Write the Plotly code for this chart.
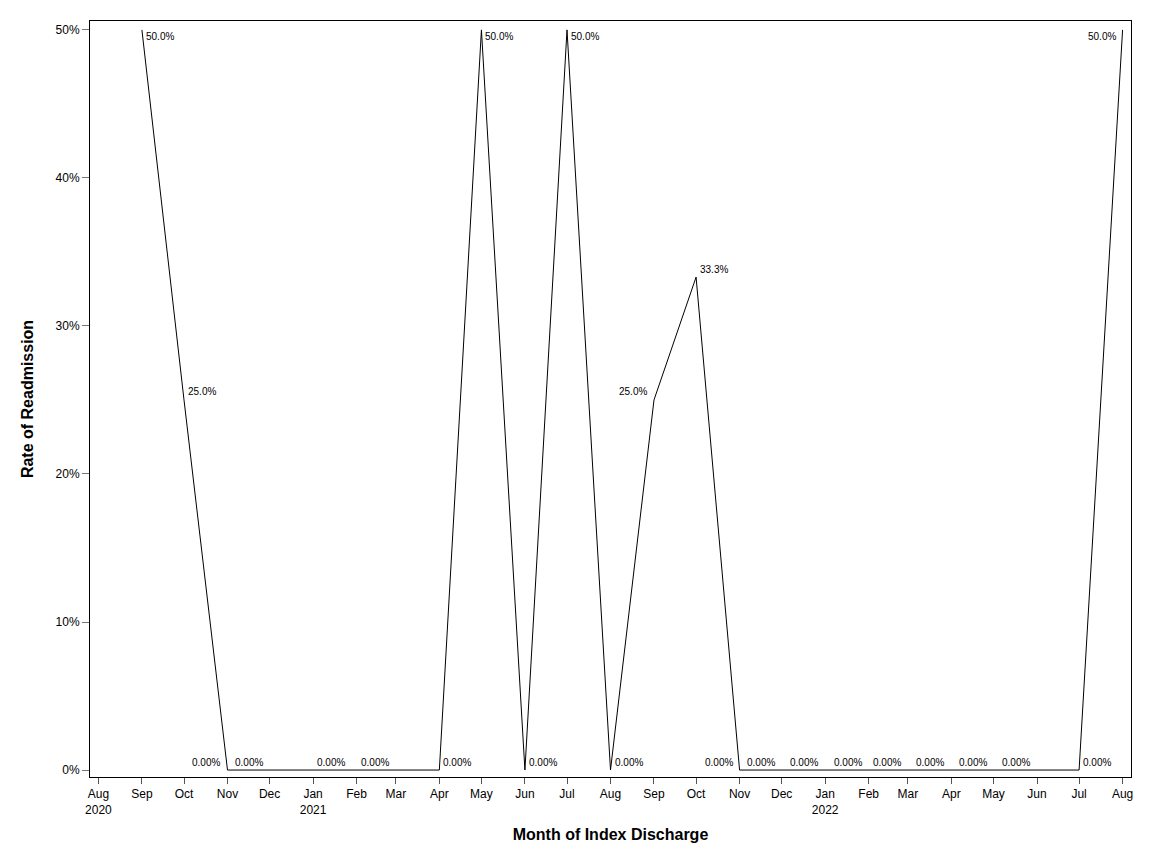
import plotly.graph_objects as go

# monthly readmission rate by month of index discharge
months = ["2020-09-01", "2020-10-01", "2020-11-01", "2020-12-01", "2021-01-01",
          "2021-02-01", "2021-03-01", "2021-04-01", "2021-05-01", "2021-06-01",
          "2021-07-01", "2021-08-01", "2021-09-01", "2021-10-01", "2021-11-01",
          "2021-12-01", "2022-01-01", "2022-02-01", "2022-03-01", "2022-04-01",
          "2022-05-01", "2022-06-01", "2022-07-01", "2022-08-01"]
rates = [0.50, 0.25, 0.0, 0.0, 0.0, 0.0, 0.0, 0.0, 0.50, 0.0, 0.50, 0.0,
         0.25, 0.333, 0.0, 0.0, 0.0, 0.0, 0.0, 0.0, 0.0, 0.0, 0.0, 0.50]
point_labels = ["50.0%", "25.0%", "0.00%", "0.00%", "0.00%", "0.00%", "", "0.00%",
                "50.0%", "0.00%", "50.0%", "0.00%", "25.0%", "33.3%", "0.00%",
                "0.00%", "0.00%", "0.00%", "0.00%", "0.00%", "0.00%", "0.00%",
                "0.00%", "50.0%"]

tick_dates = ["2020-08-01", "2020-09-01", "2020-10-01", "2020-11-01", "2020-12-01",
              "2021-01-01", "2021-02-01", "2021-03-01", "2021-04-01", "2021-05-01",
              "2021-06-01", "2021-07-01", "2021-08-01", "2021-09-01", "2021-10-01",
              "2021-11-01", "2021-12-01", "2022-01-01", "2022-02-01", "2022-03-01",
              "2022-04-01", "2022-05-01", "2022-06-01", "2022-07-01", "2022-08-01"]
tick_text = ["Aug<br>2020", "Sep", "Oct", "Nov", "Dec", "Jan<br>2021", "Feb", "Mar",
             "Apr", "May", "Jun", "Jul", "Aug", "Sep", "Oct", "Nov", "Dec",
             "Jan<br>2022", "Feb", "Mar", "Apr", "May", "Jun", "Jul", "Aug"]

# label placement: side of the point (L/R) and above/below (A/B)
label_side = ["RB", "RA", "LA", "LA", "RA", "RA", "RA", "RA", "RB", "RA", "RB", "RA",
              "LA", "RA", "LA", "LA", "LA", "LA", "LA", "LA", "LA", "LA", "RA", "LB"]

font = "Liberation Sans, Arial, sans-serif"

fig = go.Figure()
fig.add_trace(go.Scatter(
    x=months, y=rates,
    mode="lines",
    line=dict(color="black", width=1),
    hoverinfo="x+y"
))

for m, r, t, s in zip(months, rates, point_labels, label_side):
    if not t:
        continue
    fig.add_annotation(
        x=m, y=r, text=t, showarrow=False,
        xanchor="left" if s[0] == "R" else "right",
        yanchor="middle",
        xshift=2 if s[0] == "R" else -5,
        yshift=8 if s[1] == "A" else -7,
        font=dict(family=font, size=10, color="black")
    )

fig.update_xaxes(
    range=["2020-07-26", "2022-08-07"],
    tickvals=tick_dates, ticktext=tick_text,
    ticks="outside", ticklen=6, tickcolor="#555555",
    showgrid=False, zeroline=False,
    showline=True, linecolor="black", linewidth=1, mirror=True,
    tickfont=dict(family=font, size=12, color="black"),
    title=dict(text="<b>Month of Index Discharge</b>",
               font=dict(family=font, size=16, color="black"), standoff=12)
)
fig.update_yaxes(
    range=[-0.0047, 0.506],
    tickvals=[0, 0.1, 0.2, 0.3, 0.4, 0.5], tickformat=".0%",
    ticks="outside", ticklen=7, tickcolor="#777777",
    showgrid=False, zeroline=False,
    showline=True, linecolor="black", linewidth=1, mirror=True,
    tickfont=dict(family=font, size=12, color="black"),
    title=dict(text="<b>Rate of Readmission</b>",
               font=dict(family=font, size=16, color="black"), standoff=17)
)
fig.update_layout(
    width=1136, height=848,
    margin=dict(l=82, r=13, t=13, b=79),
    plot_bgcolor="white", paper_bgcolor="white",
    showlegend=False
)
fig.write_html("out.html")
